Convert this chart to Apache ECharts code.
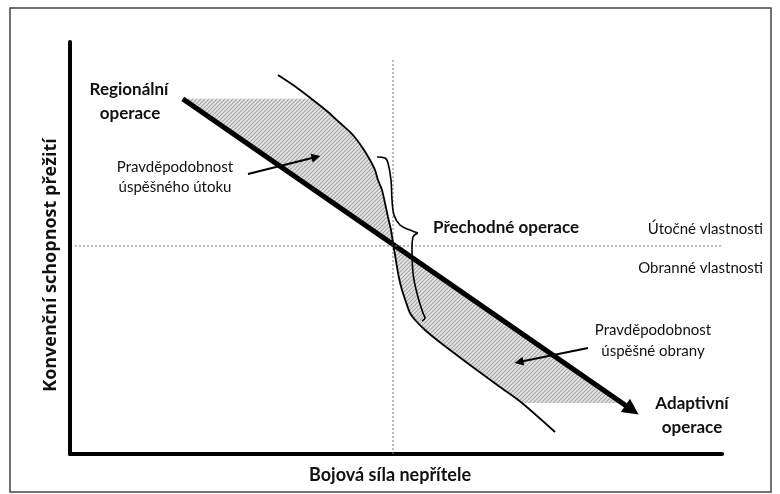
<!DOCTYPE html>
<html>
<head>
<meta charset="utf-8">
<script src="https://cdn.jsdelivr.net/npm/echarts@6/dist/echarts.min.js"></script>
<style>html,body{margin:0;padding:0;background:#fff}#c{width:780px;height:494px}</style>
</head>
<body>
<div id="c"></div>
<script>
// ---- data (abstract units, 0..100 on both axes) ----
const xAxisTitle = 'Bojová síla nepřítele';
const yAxisTitle = 'Konvenční schopnost přežití';
const mainLine = [[17.3, 86.2], [86.2, 10.7]];
const boundaryCurve = [
  [31.90, 91.99], [34.66, 89.08], [37.27, 85.92], [39.57, 83.01], [41.41, 80.34],
  [42.94, 78.16], [44.02, 76.21], [45.09, 73.79], [46.01, 71.36], [46.78, 68.93],
  [47.24, 66.50], [47.85, 64.08], [48.31, 60.92], [48.77, 57.52], [49.23, 54.37],
  [49.54, 51.21], [49.85, 48.30], [50.15, 45.39], [50.46, 42.72], [50.92, 39.81],
  [51.53, 36.89], [52.15, 34.22], [53.07, 32.28], [54.45, 30.10], [56.29, 27.67],
  [61.35, 21.60], [65.95, 16.26], [69.33, 12.38], [74.39, 5.34]
];
const shadeTop = 86.2;
const shadeBottom = 12.4;
const braceUpper = [[47.09, 72.09], [48.31, 71.84], [48.77, 70.63], [49.23, 66.50], [49.39, 61.65],
  [49.69, 58.01], [50.61, 55.58], [52.15, 54.37], [53.37, 53.64]];
const braceLower = [[53.37, 53.64], [52.61, 52.67], [52.45, 50.24], [52.61, 43.93], [53.37, 38.11],
  [54.14, 34.22], [54.45, 33.01], [53.99, 32.28]];
const attackArrow = [[27.3, 67.96], [37.73, 72.09]];
const defenseArrow = [[79.45, 25.73], [68.86, 22.33]];
const vRefX = 49.54, vRefRange = [0, 96.1];
const hRefY = 50.5, hRefRange = [0.77, 106.6];
const labels = {
  regional: ['Regionální', 'operace'],
  attack: ['Pravděpodobnost', 'úspěšného útoku'],
  transition: 'Přechodné operace',
  offensive: 'Útočné vlastnosti',
  defensive: 'Obranné vlastnosti',
  defense: ['Pravděpodobnost', 'úspěšné obrany'],
  adaptive: ['Adaptivní', 'operace']
};

// ---- geometry helpers ----
const slope = (mainLine[1][1] - mainLine[0][1]) / (mainLine[1][0] - mainLine[0][0]);
const lineY = x => mainLine[0][1] + slope * (x - mainLine[0][0]);
const lineXAt = y => mainLine[0][0] + (y - mainLine[0][1]) / slope;
function curveXAt(y) {
  for (let i = 0; i < boundaryCurve.length - 1; i++) {
    const a = boundaryCurve[i], b = boundaryCurve[i + 1];
    if ((a[1] - y) * (b[1] - y) <= 0) {
      const t = (y - a[1]) / (b[1] - a[1]);
      return a[0] + t * (b[0] - a[0]);
    }
  }
  return null;
}
function crossing() {
  for (let i = 0; i < boundaryCurve.length - 1; i++) {
    const a = boundaryCurve[i], b = boundaryCurve[i + 1];
    const fa = a[1] - lineY(a[0]), fb = b[1] - lineY(b[0]);
    if (fa * fb <= 0) {
      const t = fa / (fa - fb);
      return [a[0] + t * (b[0] - a[0]), a[1] + t * (b[1] - a[1])];
    }
  }
}
const cross = crossing();
const upperPoly = [[lineXAt(shadeTop), shadeTop], [curveXAt(shadeTop), shadeTop]]
  .concat(boundaryCurve.filter(p => p[1] < shadeTop && p[1] > cross[1]))
  .concat([cross]);
const lowerPoly = [cross]
  .concat(boundaryCurve.filter(p => p[1] < cross[1] && p[1] > shadeBottom))
  .concat([[curveXAt(shadeBottom), shadeBottom], [lineXAt(shadeBottom), shadeBottom]]);
const polys = [upperPoly, lowerPoly];

// hatch pattern
const pc = document.createElement('canvas');
pc.width = 4; pc.height = 4;
const g = pc.getContext('2d');
g.fillStyle = '#e4e4e4'; g.fillRect(0, 0, 4, 4);
g.strokeStyle = '#a6a6a6'; g.lineWidth = 1.1;
g.beginPath();
g.moveTo(-1, 5); g.lineTo(5, -1);
g.moveTo(-3, 3); g.lineTo(3, -3);
g.moveTo(1, 7); g.lineTo(7, 1);
g.stroke();

const chart = echarts.init(document.getElementById('c'), null, { renderer: 'canvas' });
const font = 'Lato';
function txt(text, x, y, opt) {
  return Object.assign({
    type: 'text', x: x, y: y, silent: true,
    style: Object.assign({ text: text, fill: '#111', font: '15px ' + font, align: 'center', verticalAlign: 'middle' }, opt || {})
  });
}
const bold = 'bold 17px ' + font;

chart.setOption({
  animation: false,
  backgroundColor: '#fff',
  grid: { left: 70, right: 58, top: 42, bottom: 40 },
  xAxis: {
    type: 'value', min: 0, max: 100,
    axisLine: { show: true, lineStyle: { color: '#000', width: 4 } },
    axisTick: { show: false }, axisLabel: { show: false }, splitLine: { show: false },
    name: xAxisTitle, nameLocation: 'middle', nameGap: 12,
    nameTextStyle: { fontFamily: font, fontWeight: 'bold', fontSize: 18, color: '#111', padding: [0, 12, 0, 0] }
  },
  yAxis: {
    type: 'value', min: 0, max: 100,
    axisLine: { show: true, lineStyle: { color: '#000', width: 4 } },
    axisTick: { show: false }, axisLabel: { show: false }, splitLine: { show: false },
    name: yAxisTitle, nameLocation: 'middle', nameGap: 10, nameRotate: 90,
    nameTextStyle: { fontFamily: 'Open Sans', fontWeight: 'bold', fontSize: 18, color: '#111', padding: [0, 34, 0, 0] }
  },
  series: [
    {
      type: 'custom', clip: false, silent: true,
      data: polys.map((p, i) => [i]),
      renderItem: function (params, api) {
        const pts = polys[params.dataIndex].map(p => api.coord(p));
        return { type: 'polygon', shape: { points: pts }, style: { fill: { image: pc, repeat: 'repeat' }, stroke: null } };
      }
    },
    {
      type: 'line', clip: false, silent: true, symbol: 'none',
      data: [[vRefX, vRefRange[0]], [vRefX, vRefRange[1]]],
      lineStyle: { color: '#777', width: 1, type: [2, 2] }
    },
    {
      type: 'line', clip: false, silent: true, symbol: 'none',
      data: [[hRefRange[0], hRefY], [hRefRange[1], hRefY]],
      lineStyle: { color: '#777', width: 1, type: [2, 2] }
    },
    {
      type: 'line', clip: false, silent: true, symbol: 'none', smooth: 0.25,
      data: boundaryCurve, lineStyle: { color: '#000', width: 1.8 }
    },
    {
      type: 'line', clip: false, silent: true, symbol: 'none', smooth: 0.4,
      data: braceUpper, lineStyle: { color: '#000', width: 1.6 }
    },
    {
      type: 'line', clip: false, silent: true, symbol: 'none', smooth: 0.4,
      data: braceLower, lineStyle: { color: '#000', width: 1.6 }
    },
    {
      type: 'lines', coordinateSystem: 'cartesian2d', silent: true,
      symbol: ['none', 'triangle'], symbolSize: 16,
      data: [{ coords: mainLine }],
      lineStyle: { color: '#000', width: 5, opacity: 1 }
    },
    {
      type: 'lines', coordinateSystem: 'cartesian2d', silent: true,
      symbol: ['none', 'triangle'], symbolSize: 9,
      data: [{ coords: attackArrow }, { coords: defenseArrow }],
      lineStyle: { color: '#000', width: 2, opacity: 1 }
    }
  ],
  graphic: [
    { type: 'rect', shape: { x: 10, y: 8, width: 761, height: 484 }, style: { fill: null, stroke: '#444', lineWidth: 1.5 }, silent: true },
    txt(labels.regional[0], 129, 90, { font: bold }),
    txt(labels.regional[1], 130, 114, { font: bold }),
    txt(labels.attack[0], 175, 167),
    txt(labels.attack[1], 175, 187),
    txt(labels.transition, 433, 228, { font: bold, align: 'left' }),
    txt(labels.offensive, 763, 229, { align: 'right' }),
    txt(labels.defensive, 763, 268, { align: 'right' }),
    txt(labels.defense[0], 653, 330),
    txt(labels.defense[1], 653, 351),
    txt(labels.adaptive[0], 692, 404, { font: bold }),
    txt(labels.adaptive[1], 692, 428, { font: bold })
  ]
});
</script>
</body>
</html>
